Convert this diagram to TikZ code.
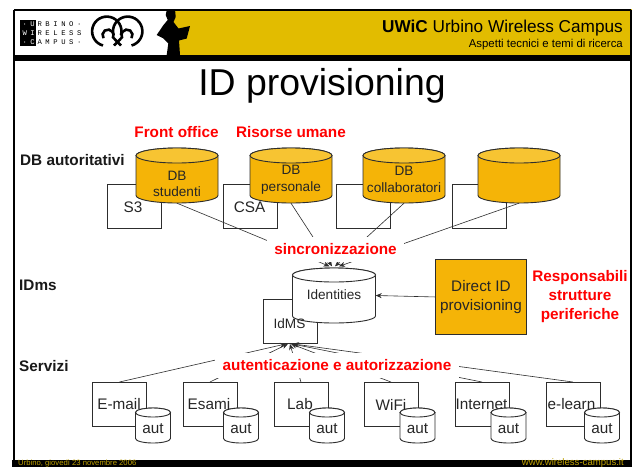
\documentclass[tikz,border=0pt]{standalone}
\usepackage{fontspec}
\setmainfont{Liberation Sans}
\newfontfamily\logofont{Liberation Mono}[LetterSpace=50]
\usetikzlibrary{arrows.meta,calc}
\definecolor{hdrgold}{RGB}{226,188,0}
\definecolor{goldbody}{RGB}{245,180,7}
\definecolor{goldtop}{RGB}{247,196,50}
\definecolor{plainbody}{RGB}{255,255,255}
\definecolor{plaintop}{RGB}{255,255,255}
\definecolor{inkline}{RGB}{45,45,45}
\definecolor{footgold}{RGB}{190,160,0}
\newcommand\fa{\fontsize{15.3}{17.5}\selectfont}
\newcommand\fb{\fontsize{13.6}{16.5}\selectfont}
\newcommand\fc{\fontsize{15.3}{19}\selectfont\bfseries}
% name, cx, cy, w, h, ry, colour prefix, text dy, text
\newcommand\cylnode[9]{%
  \begin{scope}[shift={(#2,-#3)}]
    \draw[shapeline,fill=#7body] ({-#4/2},{#5/2-#6}) arc[start angle=180,end angle=0,x radius=#4/2,y radius=#6]
      -- ({#4/2},{-#5/2+#6}) arc[start angle=0,end angle=-180,x radius=#4/2,y radius=#6] -- cycle;
    \draw[shapeline,fill=#7top] (0,{#5/2-#6}) ellipse[x radius=#4/2,y radius=#6];
    \node[minimum width=#4,minimum height=#5,inner sep=0pt] (#1) at (0,0) {};
    \node[inner sep=0pt,align=center,font=\fb,text=black!85] (#1text) at (0,{-#8}) {#9};
  \end{scope}}
\tikzset{
  x=1pt,y=1pt,
  shapeline/.style={draw=inkline,line width=0.9pt},
  boxnode/.style={shapeline,fill=white,inner sep=0pt,anchor=north west,minimum width=#1,minimum height=44,font=\fa,text=black!85},
  boxnode/.default=54,
  link/.style={draw=inkline,line width=0.6pt},
  linkarrow/.style={link,-{Stealth[length=6pt,width=5pt]}},
  redlabel/.style={inner sep=0pt,font=\fc,text=red,align=center},
  redbox/.style={inner sep=0pt,fill=white,font=\fc,text=red},
  sidelabel/.style={inner sep=0pt,anchor=west,font=\fc,text=black!90},
  logoletters/.style={inner sep=0pt,anchor=west,font=\logofont\fontsize{7.2}{8}\selectfont},
}
\begin{document}
\begin{tikzpicture}
\useasboundingbox (0,0) rectangle (636,-467);
\fill[white] (0,0) rectangle (636,-467);
% header
\fill[hdrgold] (172,-9) rectangle (632,-56);
\draw[black,line width=1.6pt] (13.8,-10) -- (631,-10);
\draw[black,line width=1.4pt] (13.8,-10) -- (13.8,-460);
\draw[black,line width=2pt] (631,-10) -- (631,-460);
\fill[black] (13,-55) rectangle (632,-60.5);
\fill[black] (12,-460) rectangle (632,-467);
% person
\fill[black] (167,-9) -- (175,-9) -- (175.7,-17) -- (173.5,-22) -- (178.5,-28.5) -- (190,-26) -- (186.7,-38.5) -- (179,-40.5) -- (180,-55) -- (166.7,-55) -- (168.3,-43.5) -- (163.5,-38.5) -- (156.7,-35) -- (163.5,-25) -- (167.7,-20) -- (165.7,-15) -- cycle;
% logo
\fill[black] (20,-19.5) rectangle (35.5,-46);
\node[logoletters,text=white] (logoa) at (22.3,-23.7) {·U};
\node[logoletters,text=white] (logob) at (22.3,-32.7) {WI};
\node[logoletters,text=white] (logoc) at (22.3,-41.7) {·C};
\node[logoletters] (logod) at (37.3,-23.7) {RBINO·};
\node[logoletters] (logoe) at (37.3,-32.7) {RELESS};
\node[logoletters] (logof) at (37.3,-41.7) {AMPUS·};
\begin{scope}[black,line width=2.6pt]
\draw (103,-45.5) arc[start angle=255,end angle=-15,radius=14.7];
\draw (131.5,-45.5) arc[start angle=-75,end angle=195,radius=14.7];
\draw (103.5,-38.2) arc[start angle=215,end angle=-25,radius=5.5] -- (121,-45.5);
\draw (131.5,-38.2) arc[start angle=-35,end angle=205,radius=5.5] -- (114,-45.5);
\end{scope}
% header text
\node[inner sep=0pt,anchor=base east,font=\fontsize{17.2}{20}\selectfont] (hdrtitle) at (623,-32) {\textbf{UWiC} Urbino Wireless Campus};
\node[inner sep=0pt,anchor=base east,font=\fontsize{11.4}{13}\selectfont] (hdrsub) at (623,-47) {Aspetti tecnici e temi di ricerca};
% footer
\node[inner sep=0pt,anchor=base west,text=footgold,font=\fontsize{7.7}{8}\selectfont] (footl) at (18,-465.3) {Urbino, giovedì 23 novembre 2006};
\node[inner sep=0pt,anchor=base east,text=footgold,font=\fontsize{9.6}{10}\selectfont] (footr) at (624,-465.3) {www.wireless-campus.it};
% title
\node[inner sep=0pt,font=\fontsize{37.4}{40}\selectfont] (title) at (322,-86) {ID provisioning};
% side labels
\node[sidelabel] (sidedb) at (20,-160) {DB autoritativi};
\node[sidelabel] (sideid) at (19,-285) {IDms};
\node[sidelabel] (sidesv) at (19,-366) {Servizi};
\node[redlabel] (front) at (176.5,-132) {Front office};
\node[redlabel] (risorse) at (291,-132) {Risorse umane};
\node[redlabel] (resp) at (580,-297) {Responsabili\\strutture\\periferiche};
% source boxes
\node[boxnode] (s3) at (106.5,-184) {};
\node[boxnode] (csa) at (223,-184) {};
\node[boxnode] (b3) at (336,-184) {};
\node[boxnode] (b4) at (451.5,-184) {};
\node[inner sep=0pt,font=\fa,text=black!85] (s3text) at (133,-207) {S3};
\node[inner sep=0pt,font=\fa,text=black!85] (csatext) at (249.5,-207) {CSA};
\node[boxnode] (idms) at (262.5,-299) {};
% DB cylinders
\cylnode{dbstud}{177}{175.5}{82}{55}{7.5}{gold}{8.5}{DB\\studenti}
\cylnode{dbpers}{291}{175.5}{82}{55}{7.5}{gold}{4}{DB\\personale}
\cylnode{dbcoll}{404}{175.5}{82}{55}{7.5}{gold}{4}{DB\\collaboratori}
\cylnode{dbempty}{519}{175.5}{82}{55}{7.5}{gold}{4}{}
\cylnode{idents}{334}{295.5}{83}{55}{7}{plain}{-0.5}{Identities}
\node[inner sep=0pt,font=\fb,text=black!85] (idmstext) at (289.5,-324) {IdMS};
% direct box
\node[shapeline,fill=goldbody,inner sep=0pt,anchor=north west,minimum width=91,minimum height=75,align=center,font=\fc\mdseries,text=black!85] (direct) at (435,-259) {Direct ID\\provisioning};
\draw[linkarrow] (direct.west) -- (idents.east);
% service boxes
\node[boxnode] (email) at (92,-382) {};
\node[boxnode] (esami) at (182.5,-382) {};
\node[boxnode] (lab) at (273.5,-382) {};
\node[boxnode] (wifi) at (363.5,-382) {};
\node[boxnode] (inet) at (454.5,-382) {};
\node[boxnode] (elearn) at (545.5,-382) {};
% synchronisation links
\draw[linkarrow] (dbstud.south) -- ([xshift=-4.5pt,yshift=1.5pt]idents.north);
\draw[linkarrow] (dbpers.south) -- ([xshift=-2pt,yshift=1.5pt]idents.north);
\draw[linkarrow] (dbcoll.south) -- ([xshift=1pt,yshift=1.5pt]idents.north);
\draw[linkarrow] (dbempty.south) -- ([xshift=5pt,yshift=1.5pt]idents.north);
% authentication links
\draw[linkarrow] (email.north) -- ([xshift=-4pt]idms.south);
\draw[linkarrow] (esami.north) -- ([xshift=-2pt]idms.south);
\draw[linkarrow] (lab.north) -- (idms.south);
\draw[linkarrow] (wifi.north) -- ([xshift=1pt]idms.south);
\draw[linkarrow] (inet.north) -- ([xshift=2pt]idms.south);
\draw[linkarrow] (elearn.north) -- ([xshift=3pt]idms.south);
% link labels
\node[redbox,minimum width=137,minimum height=25] (sync) at (335.5,-249) {sincronizzazione};
\node[redbox,minimum width=244,minimum height=25] (auth) at (337,-365) {autenticazione e autorizzazione};
% service names and small cylinders
\node[inner sep=0pt,font=\fa,text=black!85] (emailtext) at (119,-404.5) {E-mail};
\node[inner sep=0pt,font=\fa,text=black!85] (esamitext) at (209,-404.5) {Esami};
\node[inner sep=0pt,font=\fa,text=black!85] (labtext) at (300,-404.5) {Lab};
\node[inner sep=0pt,font=\fa,text=black!85] (wifitext) at (391,-404.5) {WiFi};
\node[inner sep=0pt,font=\fa,text=black!85] (inettext) at (481.5,-404.5) {Internet};
\node[inner sep=0pt,font=\fa,text=black!85] (elearntext) at (571.5,-404.5) {e-learn};
\cylnode{auta}{153}{425.5}{35}{35}{4.5}{plain}{3}{\fa aut}
\cylnode{autb}{241}{425.5}{35}{35}{4.5}{plain}{3}{\fa aut}
\cylnode{autc}{327}{425.5}{35}{35}{4.5}{plain}{3}{\fa aut}
\cylnode{autd}{417.5}{425.5}{35}{35}{4.5}{plain}{3}{\fa aut}
\cylnode{aute}{508.5}{425.5}{35}{35}{4.5}{plain}{3}{\fa aut}
\cylnode{autf}{602}{425.5}{35}{35}{4.5}{plain}{3}{\fa aut}
\end{tikzpicture}
\end{document}
